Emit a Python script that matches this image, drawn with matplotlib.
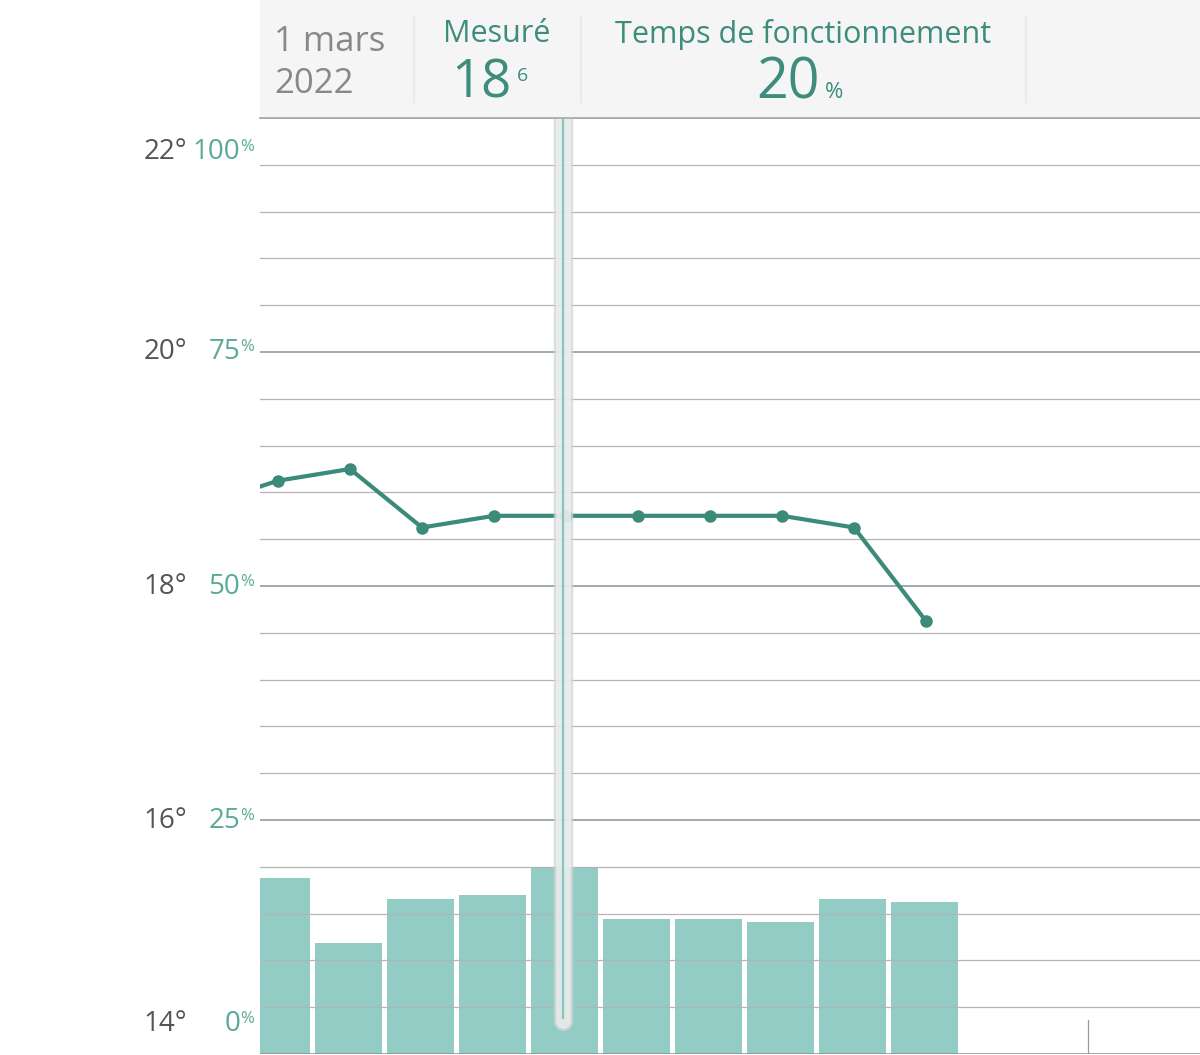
import numpy as np
import matplotlib
matplotlib.use('Agg')
import matplotlib.pyplot as plt
from matplotlib.patches import Rectangle

plt.rcParams['font.family'] = ['Open Sans', 'DejaVu Sans']

# data (one point / bar per period, index -1 is off screen)
periods = [-1, 0, 1, 2, 3, 4, 5, 6, 7, 8, 9]
temps = [18.7, 18.9, 19.0, 18.5, 18.6, 18.6, 18.6, 18.6, 18.6, 18.5, 17.7]
bar_periods = [0, 1, 2, 3, 4, 5, 6, 7, 8, 9]
runtime = [18.8, 11.9, 16.6, 17.0, 20.0, 14.4, 14.4, 14.1, 16.6, 16.2]
temp_ticks = [14, 16, 18, 20, 22]
pct_ticks = ['0', '25', '50', '75', '100']
date_lines = ['1 mars', '2022']
measured_label = 'Mesuré'
measured_int, measured_dec = '18', '6'
runtime_label = 'Temps de fonctionnement'
runtime_value = '20'

teal = '#3b8a7a'
teal_txt = '#3d8c7c'
teal_lbl = '#5aaa98'
bar_col = '#93ccc5'
W, H = 1200, 1055

fig = plt.figure(figsize=(W / 100, H / 100), dpi=100)
fig.patch.set_facecolor('white')

def fx(px):
    return px / W

def fy(py):
    return 1 - py / H

ax2 = fig.add_axes([fx(260), fy(1054), fx(940), 936 / H])
ax = ax2.twinx()
ax.set_zorder(ax2.get_zorder() + 1)
ax.patch.set_visible(False)

x0 = -0.25
ax2.set_xlim(x0, x0 + 940 / 72)
ax2.set_ylim(0, 100)
ax.set_ylim(14, 22)

ax2.bar(np.array(bar_periods) - 1.5 / 72, runtime, width=67 / 72, color=bar_col, zorder=1)

# grid
for t in np.arange(14, 22.01, 0.4):
    major = abs(t - round(t / 2) * 2) < 1e-6
    ax.axhline(t, color='#8a9196' if major else '#b4b4b4', lw=1.1 if major else 0.9, zorder=2)

ax.plot(periods, temps, color=teal, lw=3, marker='o', ms=8, zorder=4)

# day separator tick at the bottom
ax.plot([11.25, 11.25], [14, 14 + 34 / 117], color='#9a9a9a', lw=0.9, zorder=3)

# cursor
cursor_x = 3.96
cy_bot = 14 + (1054 - 1021) / 117
ax.plot([cursor_x, cursor_x], [22.5, cy_bot], color='#cfd4d4', lw=14, alpha=0.75,
        solid_capstyle='round', zorder=6)
ax.plot([cursor_x, cursor_x], [22.5, cy_bot], color='#eff1f1', lw=11, alpha=0.75,
        solid_capstyle='round', zorder=7)
ax.plot([cursor_x, cursor_x], [22.5, cy_bot + 0.02], color='#86c6bd', lw=1.6, zorder=8,
        solid_capstyle='butt')

for a in (ax, ax2):
    a.set_xticks([])
    a.set_yticks([])
    for s in a.spines.values():
        s.set_visible(False)

# y labels
lab_y = [1024, 821, 587, 352, 152]
for t, p, py in zip(temp_ticks, pct_ticks, lab_y):
    fig.text(fx(187), fy(py), f'{t}°', ha='right', va='center', fontsize=20, color='#555555')
    fig.text(fx(240), fy(py), p, ha='right', va='center', fontsize=20, color=teal_lbl)
    fig.text(fx(240), fy(py - 5), '%', ha='left', va='center', fontsize=12, color=teal_lbl)

# header band
fig.patches.append(Rectangle((fx(260), fy(118)), fx(940), 118 / H, transform=fig.transFigure,
                             facecolor='#f5f5f5', edgecolor='none', zorder=0))
fig.add_artist(plt.Line2D([fx(260), 1], [fy(118), fy(118)], color='#a8a8a8', lw=1.2))
for dx in [414, 581, 1026]:
    fig.add_artist(plt.Line2D([fx(dx), fx(dx)], [fy(16), fy(102)], color='#eaeaea', lw=1.5))

fig.text(fx(274), fy(42), date_lines[0], ha='left', va='center', fontsize=25, color='#888888')
fig.text(fx(274), fy(84), date_lines[1], ha='left', va='center', fontsize=25, color='#888888')
fig.text(fx(497), fy(34), measured_label, ha='center', va='center', fontsize=22, color=teal_txt)
fig.text(fx(512), fy(84), measured_int, ha='right', va='center', fontsize=38, color=teal_txt)
fig.text(fx(517), fy(76), measured_dec, ha='left', va='center', fontsize=14, color=teal_txt)
fig.text(fx(803), fy(34), runtime_label, ha='center', va='center', fontsize=22, color=teal_txt)
fig.text(fx(820), fy(84), runtime_value, ha='right', va='center', fontsize=40, color=teal_txt)
fig.text(fx(825), fy(92), '%', ha='left', va='center', fontsize=16, color=teal_txt)

fig.savefig('out.png', dpi=100)
